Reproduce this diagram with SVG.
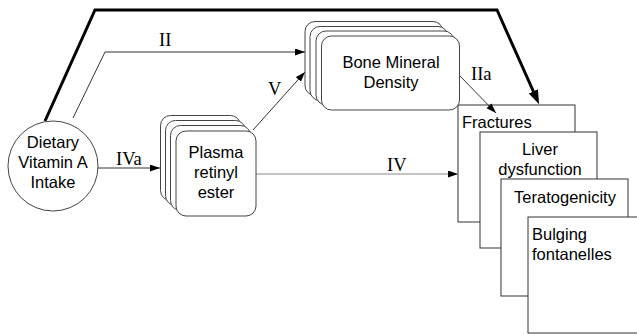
<svg xmlns="http://www.w3.org/2000/svg" width="637" height="335" viewBox="0 0 637 335">
<style>
.sans{font-family:"Liberation Sans",Arial,sans-serif;font-size:16.5px;fill:#000}
.rom{font-family:"Liberation Serif","Times New Roman",serif;font-size:18.5px;fill:#000}
.stk{fill:#fff;stroke:#444;stroke-width:1}
.box{fill:#fff;stroke:#333;stroke-width:1}
.ln{fill:none;stroke:#333;stroke-width:1}
</style>
<defs>
<marker id="a" markerUnits="userSpaceOnUse" markerWidth="11" markerHeight="8" refX="10" refY="3.5" orient="auto"><path d="M0,0 L10,3.5 L0,7 z" fill="#000"/></marker>
<marker id="b" markerUnits="userSpaceOnUse" markerWidth="15" markerHeight="11" refX="4" refY="5" orient="auto"><path d="M0,0 L14,5 L0,10 z" fill="#000"/></marker>
</defs>
<rect width="637" height="335" fill="#fff"/>
<g id="outcomes">
<rect class="box" x="458" y="105" width="117" height="117"/>
<text class="sans" x="462" y="128">Fractures</text>
<rect class="box" x="480" y="132" width="117" height="116"/>
<text class="sans" x="540" y="155" text-anchor="middle">Liver</text>
<text class="sans" x="540" y="175" text-anchor="middle">dysfunction</text>
<rect class="box" x="501" y="179" width="127" height="117"/>
<text class="sans" x="565" y="203" text-anchor="middle">Teratogenicity</text>
<rect class="box" x="528" y="217" width="120" height="116"/>
<text class="sans" x="532" y="240">Bulging</text>
<text class="sans" x="532" y="260">fontanelles</text>
</g>
<g id="connectors">
<path d="M45,121 L95,10 L497,10 L535,95" fill="none" stroke="#000" stroke-width="3" marker-end="url(#b)"/>
<path class="ln" d="M73,118 L105,52 L305,52" marker-end="url(#a)"/>
<path class="ln" d="M253,130 L305,72" marker-end="url(#a)"/>
<path class="ln" d="M98,168 L160,168" marker-end="url(#a)"/>
<path d="M256,174 L458,174" fill="none" stroke="#888" stroke-width="1" marker-end="url(#a)"/>
<path class="ln" d="M459,75 L496,113" marker-end="url(#a)"/>
<text class="rom" x="159" y="46">II</text>
<text class="rom" x="268" y="95">V</text>
<text class="rom" x="116" y="165">IVa</text>
<text class="rom" x="387" y="171" font-size="17">IV</text>
<text class="rom" x="471" y="80">IIa</text>
</g>
<g id="intake">
<circle cx="53" cy="166" r="45" fill="#fff" stroke="#444" stroke-width="1"/>
<text class="sans" x="53" y="148" text-anchor="middle">Dietary</text>
<text class="sans" x="53" y="168" text-anchor="middle">Vitamin A</text>
<text class="sans" x="53" y="188" text-anchor="middle">Intake</text>
</g>
<g id="plasma">
<rect class="stk" x="160.5" y="115.5" width="80" height="85" rx="10"/>
<rect class="stk" x="165.5" y="120.5" width="80" height="85" rx="10"/>
<rect class="stk" x="170.5" y="125.5" width="80" height="85" rx="10"/>
<rect class="stk" x="176" y="131" width="80" height="85" rx="10"/>
<text class="sans" x="216" y="158" text-anchor="middle">Plasma</text>
<text class="sans" x="216" y="178" text-anchor="middle">retinyl</text>
<text class="sans" x="216" y="198" text-anchor="middle">ester</text>
</g>
<g id="bmd">
<rect class="stk" x="305" y="21.5" width="138" height="74" rx="10"/>
<rect class="stk" x="310" y="26.5" width="138" height="74" rx="10"/>
<rect class="stk" x="316" y="31" width="138" height="74" rx="10"/>
<rect class="stk" x="321.5" y="36" width="138" height="74" rx="10"/>
<text class="sans" x="391" y="68" text-anchor="middle">Bone Mineral</text>
<text class="sans" x="391" y="88" text-anchor="middle">Density</text>
</g>
</svg>
